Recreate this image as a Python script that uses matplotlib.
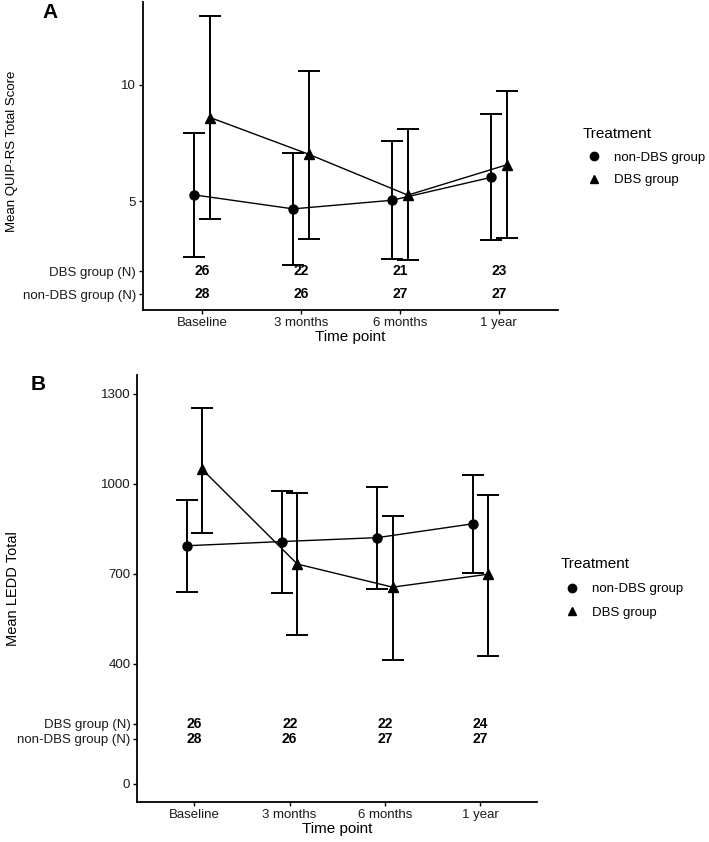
import matplotlib
matplotlib.use("Agg")
import matplotlib.pyplot as plt
from matplotlib.lines import Line2D
import numpy as np

plt.rcParams['font.family'] = ['Liberation Sans', 'DejaVu Sans']

timepoints = ["Baseline", "3 months", "6 months", "1 year"]
groups = ["non-DBS group", "DBS group"]

# Panel A: QUIP-RS
quip_nondbs_mean = [5.27, 4.67, 5.04, 6.02]
quip_nondbs_low = [2.59, 2.26, 2.51, 3.32]
quip_nondbs_high = [7.93, 7.09, 7.57, 8.76]
quip_dbs_mean = [8.59, 7.01, 5.26, 6.56]
quip_dbs_low = [4.24, 3.38, 2.47, 3.41]
quip_dbs_high = [12.94, 10.59, 8.09, 9.73]
quip_n_dbs = [26, 22, 21, 23]
quip_n_nondbs = [28, 26, 27, 27]

# Panel B: LEDD
ledd_nondbs_mean = [794, 808, 821, 867]
ledd_nondbs_low = [641, 638, 649, 702]
ledd_nondbs_high = [947, 977, 990, 1031]
ledd_dbs_mean = [1049, 733, 656, 699]
ledd_dbs_low = [838, 496, 413, 426]
ledd_dbs_high = [1253, 971, 893, 963]
ledd_n_dbs = [26, 22, 22, 24]
ledd_n_nondbs = [28, 26, 27, 27]

W, H = 709, 842
fig = plt.figure(figsize=(W / 100, H / 100), dpi=100)

def fb(l, r, b, t):
    return [l / W, 1 - b / H, (r - l) / W, (b - t) / H]

axA = fig.add_axes(fb(143, 558, 310, 2))
axB = fig.add_axes(fb(137.3, 537.3, 802, 375))

dodge = 0.08
tick_color = '#1a1a1a'

def draw(ax, nd_m, nd_lo, nd_hi, d_m, d_lo, d_hi, n_dbs, n_nondbs,
         yticks, ylim, nrow_dbs, nrow_nondbs, ylabel, ylabel_fs, lab_fs):
    x = np.arange(len(timepoints))
    xn = x - dodge
    xd = x + dodge
    for xs, m, lo, hi, mk in [(xn, nd_m, nd_lo, nd_hi, 'o'), (xd, d_m, d_lo, d_hi, '^')]:
        m = np.array(m); lo = np.array(lo); hi = np.array(hi)
        ax.errorbar(xs, m, yerr=[m - lo, hi - m], fmt='none', ecolor='black',
                    elinewidth=1.4, capsize=8, capthick=1.4, zorder=2)
        ax.plot(xs, m, color='black', lw=1.0, marker=mk, markersize=6.5,
                markerfacecolor='black', markeredgecolor='black', zorder=3)
    for i in range(len(timepoints)):
        ax.text(x[i], nrow_dbs, str(n_dbs[i]), ha='center', va='center',
                fontsize=10, fontweight='bold', color='black')
        ax.text(x[i], nrow_nondbs, str(n_nondbs[i]), ha='center', va='center',
                fontsize=10, fontweight='bold', color='black')
    ax.set_xlim(-0.6, 3.6)
    ax.set_ylim(*ylim)
    ax.set_xticks(x)
    ax.set_xticklabels(timepoints, fontsize=9.5, color=tick_color)
    yt = [nrow_nondbs, nrow_dbs] + list(yticks)
    ylabels = ["non-DBS group (N)", "DBS group (N)"] + [str(v) for v in yticks]
    ax.set_yticks(yt)
    ax.set_yticklabels(ylabels, fontsize=9.5, color=tick_color)
    for s in ['top', 'right']:
        ax.spines[s].set_visible(False)
    for s in ['left', 'bottom']:
        ax.spines[s].set_linewidth(1.3)
        ax.spines[s].set_color('black')
    ax.tick_params(axis='both', length=3, width=1, color='black', pad=2)
    ax.set_xlabel("Time point", fontsize=lab_fs, labelpad=1)
    ax.set_ylabel(ylabel, fontsize=ylabel_fs)
    handles = [Line2D([], [], marker='o', color='black', linestyle='none', markersize=6),
               Line2D([], [], marker='^', color='black', linestyle='none', markersize=6)]
    return handles

hA = draw(axA, quip_nondbs_mean, quip_nondbs_low, quip_nondbs_high,
          quip_dbs_mean, quip_dbs_low, quip_dbs_high, quip_n_dbs, quip_n_nondbs,
          [5, 10], (0.33, 13.55), 2, 1, "Mean QUIP-RS Total Score", 9.5, 11)
hB = draw(axB, ledd_nondbs_mean, ledd_nondbs_low, ledd_nondbs_high,
          ledd_dbs_mean, ledd_dbs_low, ledd_dbs_high, ledd_n_dbs, ledd_n_nondbs,
          [0, 400, 700, 1000, 1300], (-60, 1363), 200, 150, "Mean LEDD Total", 10.5, 11)

axA.yaxis.set_label_coords((18 - 143) / 415, (310 - 151) / 308)
axB.yaxis.set_label_coords((20 - 137.3) / 400, 0.5)

legkw = dict(loc='upper left', frameon=False, fontsize=9.5, title_fontsize=11,
             alignment='left', handlelength=1.67, handletextpad=0.68,
             borderaxespad=0)
legA = axA.legend(hA, groups, title="Treatment",
                  bbox_to_anchor=(577.5 / W, 1 - 122 / H), bbox_transform=fig.transFigure,
                  labelspacing=0.78, **legkw)
legB = axB.legend(hB, groups, title="Treatment",
                  bbox_to_anchor=(555.5 / W, 1 - 552 / H), bbox_transform=fig.transFigure,
                  labelspacing=0.88, **legkw)

fig.text(42 / W, 1 - 12.5 / H, "A", fontsize=15, fontweight='bold', ha='left', va='center')
fig.text(31 / W, 1 - 384.5 / H, "B", fontsize=15, fontweight='bold', ha='left', va='center')

fig.savefig("out.png", dpi=100, facecolor='white')
